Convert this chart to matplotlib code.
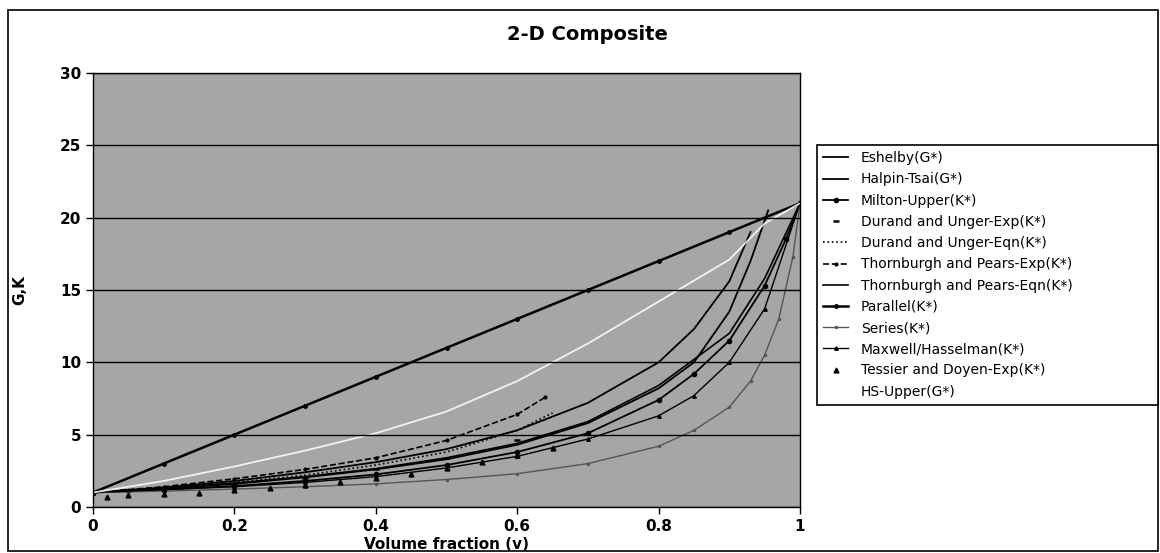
import numpy as np
import matplotlib.pyplot as plt
from matplotlib.patches import Rectangle

# volume fraction / modulus readings for each curve
v_esh = [0, 0.1, 0.2, 0.3, 0.4, 0.5, 0.6, 0.7, 0.8, 0.85, 0.9, 0.93]
k_esh = [1.0, 1.35, 1.8, 2.4, 3.1, 4.0, 5.3, 7.2, 10.0, 12.3, 15.6, 19.0]

v_halpin = [0, 0.1, 0.2, 0.3, 0.4, 0.5, 0.6, 0.7, 0.8, 0.85, 0.9, 0.93, 0.955]
k_halpin = [1.0, 1.25, 1.6, 2.05, 2.6, 3.3, 4.3, 5.8, 8.2, 10.0, 13.5, 17.0, 20.5]

v_milton = [0, 0.1, 0.2, 0.3, 0.4, 0.5, 0.6, 0.7, 0.8, 0.85, 0.9, 0.95, 0.98, 1.0]
k_milton = [1.0, 1.2, 1.45, 1.8, 2.25, 2.9, 3.8, 5.1, 7.4, 9.2, 11.5, 15.3, 18.5, 21.0]

v_du_exp = [0.05, 0.1, 0.15, 0.2, 0.3, 0.4, 0.5, 0.6]
k_du_exp = [1.1, 1.25, 1.45, 1.6, 2.0, 2.6, 3.4, 4.6]

v_du_eqn = [0, 0.1, 0.2, 0.3, 0.4, 0.5, 0.6, 0.65]
k_du_eqn = [1.0, 1.3, 1.7, 2.2, 2.9, 3.8, 5.3, 6.5]

v_tp_exp = [0, 0.1, 0.2, 0.3, 0.4, 0.5, 0.6, 0.64]
k_tp_exp = [1.0, 1.4, 1.95, 2.6, 3.4, 4.6, 6.4, 7.6]

v_tp_eqn = [0, 0.1, 0.2, 0.3, 0.4, 0.5, 0.6, 0.7, 0.8, 0.9, 0.95, 1.0]
k_tp_eqn = [1.0, 1.3, 1.65, 2.1, 2.65, 3.4, 4.4, 5.9, 8.4, 12.0, 15.8, 21.0]

v_par = [0, 0.1, 0.2, 0.3, 0.4, 0.5, 0.6, 0.7, 0.8, 0.9, 1.0]
k_par = [1, 3, 5, 7, 9, 11, 13, 15, 17, 19, 21]

v_ser = [0, 0.1, 0.2, 0.3, 0.4, 0.5, 0.6, 0.7, 0.8, 0.85, 0.9, 0.93, 0.95, 0.97, 0.99, 1.0]
k_ser = [1.0, 1.1, 1.24, 1.4, 1.6, 1.9, 2.3, 3.0, 4.2, 5.3, 6.9, 8.7, 10.5, 13.0, 17.3, 21.0]

v_max = [0, 0.1, 0.2, 0.3, 0.4, 0.5, 0.6, 0.7, 0.8, 0.85, 0.9, 0.95, 1.0]
k_max = [1.0, 1.2, 1.4, 1.7, 2.1, 2.7, 3.5, 4.7, 6.3, 7.7, 10.0, 13.7, 21.0]

v_td_exp = [0.02, 0.05, 0.1, 0.15, 0.2, 0.25, 0.3, 0.35, 0.4, 0.45, 0.5, 0.55, 0.6, 0.65]
k_td_exp = [0.7, 0.8, 0.9, 1.0, 1.15, 1.3, 1.5, 1.7, 2.0, 2.3, 2.7, 3.1, 3.6, 4.1]

v_hs = [0, 0.1, 0.2, 0.3, 0.4, 0.5, 0.6, 0.7, 0.8, 0.9, 0.95, 1.0]
k_hs = [1.0, 1.8, 2.8, 3.9, 5.1, 6.6, 8.7, 11.3, 14.2, 17.1, 19.6, 21.0]


def run_main():
    fig = plt.figure(figsize=(11.6, 5.53), dpi=100)
    ax = fig.add_axes([93 / 1160, 1 - 507 / 553, 707 / 1160, 434 / 553])
    ax.set_facecolor('#a6a6a6')

    ax.plot(v_esh, k_esh, color='black', lw=1.3, label='Eshelby(G*)')
    ax.plot(v_halpin, k_halpin, color='black', lw=1.3, label='Halpin-Tsai(G*)')
    ax.plot(v_milton, k_milton, color='black', lw=1.3, marker='o', ms=3,
            label='Milton-Upper(K*)')
    ax.plot(v_du_exp, k_du_exp, ls='none', color='black', marker='_', ms=5,
            mew=1.8, label='Durand and Unger-Exp(K*)')
    ax.plot(v_du_eqn, k_du_eqn, color='black', lw=1.2, ls=':',
            label='Durand and Unger-Eqn(K*)')
    ax.plot(v_tp_exp, k_tp_exp, color='black', lw=1.2, ls='--', marker='.',
            ms=4, label='Thornburgh and Pears-Exp(K*)')
    ax.plot(v_tp_eqn, k_tp_eqn, color='black', lw=1.2,
            label='Thornburgh and Pears-Eqn(K*)')
    ax.plot(v_par, k_par, color='black', lw=1.8, marker='.', ms=5,
            label='Parallel(K*)')
    ax.plot(v_ser, k_ser, color='#555555', lw=1.0, marker='.', ms=3,
            label='Series(K*)')
    ax.plot(v_max, k_max, color='black', lw=1.0, marker='^', ms=2.5,
            label='Maxwell/Hasselman(K*)')
    ax.plot(v_td_exp, k_td_exp, ls='none', color='black', marker='^', ms=3.5,
            label='Tessier and Doyen-Exp(K*)')
    ax.plot(v_hs, k_hs, color='white', lw=1.3, alpha=0.85, label='HS-Upper(G*)')

    ax.set_xlim(0, 1)
    ax.set_ylim(0, 30)
    ax.set_yticks([0, 5, 10, 15, 20, 25, 30])
    ax.set_xticks([0, 0.2, 0.4, 0.6, 0.8, 1])
    ax.set_xticklabels(['0', '0.2', '0.4', '0.6', '0.8', '1'])
    ax.yaxis.grid(True, color='black', lw=1)
    ax.set_axisbelow(False)
    ax.tick_params(direction='out', length=5, width=1, labelsize=11)
    for lab in ax.get_xticklabels() + ax.get_yticklabels():
        lab.set_fontweight('bold')
    for s in ax.spines.values():
        s.set_color('black')
        s.set_linewidth(1)

    ax.set_xlabel('Volume fraction (v)', fontsize=11, fontweight='bold',
                  labelpad=2)
    fig.text(20 / 1160, 1 - 290 / 553, 'G,K', rotation=90, fontsize=11,
             fontweight='bold', ha='center', va='center')
    fig.text(587 / 1160, 1 - 34 / 553, '2-D Composite', fontsize=14,
             fontweight='bold', ha='center', va='center')

    leg = fig.legend(loc='upper left',
                     bbox_to_anchor=(817 / 1160, 1 - 405 / 553,
                                     341 / 1160, 260 / 553),
                     mode='expand', borderaxespad=0, fontsize=10,
                     fancybox=False, edgecolor='black', framealpha=1,
                     handlelength=1.8, handletextpad=0.9, labelspacing=0.52,
                     borderpad=0.45)
    leg.get_frame().set_linewidth(1.2)

    # scanned page border
    fig.patches.append(Rectangle((8 / 1160, 2 / 553), 1150 / 1160, 541 / 553,
                                 transform=fig.transFigure, fill=False,
                                 edgecolor='black', lw=1.2))

    fig.savefig('out.png', dpi=100)


if __name__ == "__main__":
    run_main()
